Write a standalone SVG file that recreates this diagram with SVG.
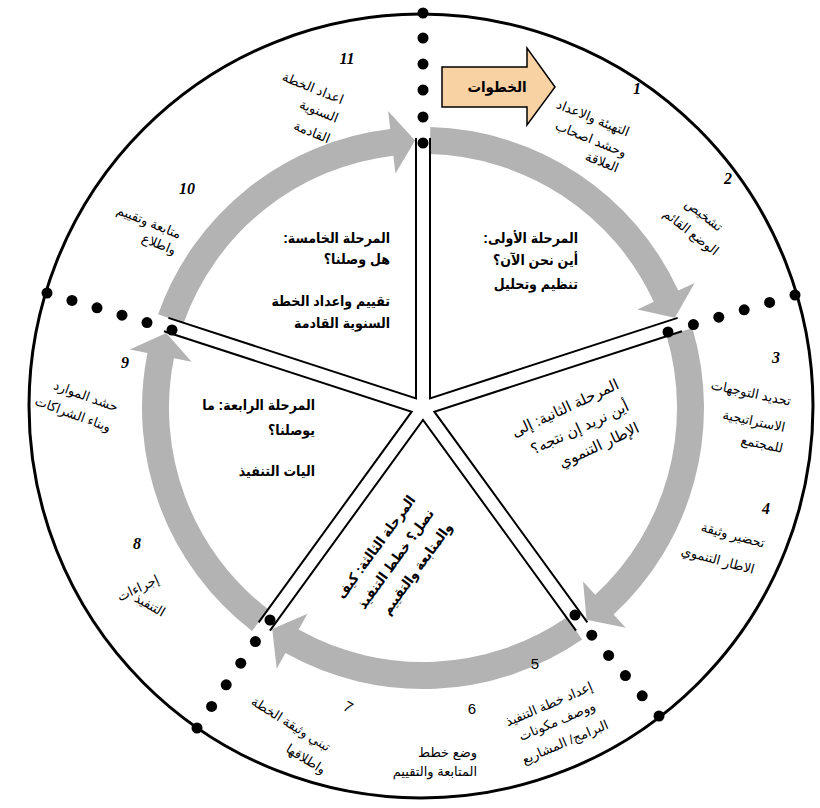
<svg xmlns="http://www.w3.org/2000/svg" xmlns:xlink="http://www.w3.org/1999/xlink" width="820" height="808" viewBox="0 0 820 808">
<style>
.ar{font-family:"Liberation Sans","DejaVu Sans",sans-serif;direction:rtl;fill:#000}
.ph{font-family:"Liberation Sans","DejaVu Sans Condensed","DejaVu Sans",sans-serif;font-size:14px;font-weight:bold}
.ph2{font-size:15px}
.st{font-size:13px;text-anchor:middle}
.ra{text-anchor:start}
.num{font-family:"Liberation Serif",serif;font-weight:bold;font-style:italic;font-size:16px;text-anchor:middle}
.num2{font-family:"Liberation Sans",sans-serif;font-size:15px;text-anchor:middle}
.dot{fill:#000}
.band{fill:#b3b3b3}
.sp{fill:none;stroke:#000;stroke-width:2}
</style>
<defs>
<path id="arr" class="band" d="M430.36,127.10 A281,281 0 0 1 678.29,290.58 L694.64,283.06 L674.84,317.83 L637.41,309.38 L653.76,301.86 A254,254 0 0 0 429.65,154.09 Z"/>
<path id="wedge" class="sp" d="M430,138 L430,398.37 L677.63,317.90"/>
</defs>
<rect width="820" height="808" fill="#fff"/>
<circle id="outer" cx="421" cy="406" r="392" fill="none" stroke="#000" stroke-width="3"/>

<g id="connectors">
<g id="ring">
<use xlink:href="#arr"/>
<use xlink:href="#arr" transform="rotate(72 423 408)"/>
<use xlink:href="#arr" transform="rotate(144 423 408)"/>
<use xlink:href="#arr" transform="rotate(216 423 408)"/>
<use xlink:href="#arr" transform="rotate(288 423 408)"/>
</g>
<g id="spokes">
<use xlink:href="#wedge"/>
<use xlink:href="#wedge" transform="rotate(72 423 408)"/>
<use xlink:href="#wedge" transform="rotate(144 423 408)"/>
<use xlink:href="#wedge" transform="rotate(216 423 408)"/>
<use xlink:href="#wedge" transform="rotate(288 423 408)"/>
</g>
<g id="dots">
<circle class="dot" cx="423" cy="143" r="5.5"/><circle class="dot" cx="423" cy="117" r="5.5"/><circle class="dot" cx="423" cy="90" r="5.5"/><circle class="dot" cx="423" cy="64" r="5.5"/><circle class="dot" cx="423" cy="38" r="5.5"/><circle class="dot" cx="423" cy="13" r="5.5"/>
<circle class="dot" cx="668" cy="332" r="5.5"/><circle class="dot" cx="693.4" cy="324.6" r="5.5"/><circle class="dot" cx="718.8" cy="317.2" r="5.5"/><circle class="dot" cx="744.2" cy="309.8" r="5.5"/><circle class="dot" cx="769.6" cy="302.4" r="5.5"/><circle class="dot" cx="795" cy="295" r="5.5"/>
<circle class="dot" cx="575" cy="615" r="5.5"/><circle class="dot" cx="591.8" cy="635.2" r="5.5"/><circle class="dot" cx="608.6" cy="655.4" r="5.5"/><circle class="dot" cx="625.4" cy="675.6" r="5.5"/><circle class="dot" cx="642.2" cy="695.8" r="5.5"/><circle class="dot" cx="659" cy="716" r="5.5"/>
<circle class="dot" cx="270" cy="620" r="5.5"/><circle class="dot" cx="255.4" cy="641.6" r="5.5"/><circle class="dot" cx="240.8" cy="663.2" r="5.5"/><circle class="dot" cx="226.2" cy="684.8" r="5.5"/><circle class="dot" cx="211.6" cy="706.4" r="5.5"/><circle class="dot" cx="197" cy="728" r="5.5"/>
<circle class="dot" cx="172" cy="330" r="5.5"/><circle class="dot" cx="147" cy="322.6" r="5.5"/><circle class="dot" cx="122" cy="315.2" r="5.5"/><circle class="dot" cx="97" cy="307.8" r="5.5"/><circle class="dot" cx="72" cy="300.4" r="5.5"/><circle class="dot" cx="47" cy="293" r="5.5"/>
</g>
</g>

<g id="steps-arrow">
<polygon points="442,67 527,67 527,48 555,87 527,125 527,107 442,107" fill="#f9d2a3" stroke="#000" stroke-width="1.5"/>
<text class="ar ph" x="497" y="92" text-anchor="middle" style="font-size:15px">الخطوات</text>
</g>

<g id="phase1">
<text class="ar ph ra" x="578" y="243">المرحلة الأولى:</text>
<text class="ar ph ra" x="578" y="265">أين نحن الآن؟</text>
<text class="ar ph ra" x="578" y="289">تنظيم وتحليل</text>
</g>
<g id="phase2" transform="translate(620 388) rotate(-25)">
<text class="ar ph2 ra" x="0" y="0">المرحلة الثانية: إلى</text>
<text class="ar ph2 ra" x="0" y="24">أين نريد إن نتجه؟</text>
<text class="ar ph2 ra" x="0" y="48">الإطار التنموي</text>
</g>
<g id="phase3" transform="translate(416 500) rotate(-54)">
<text class="ar ph ra" x="0" y="0">المرحلة الثالثة: كيف</text>
<text class="ar ph ra" x="0" y="23">نصل؟ خطط التنفيذ</text>
<text class="ar ph ra" x="0" y="46">والمتابعة والتقييم</text>
</g>
<g id="phase4">
<text class="ar ph ra" x="315" y="410">المرحلة الرابعة: ما</text>
<text class="ar ph ra" x="315" y="435">يوصلنا؟</text>
<text class="ar ph ra" x="315" y="476">اليات التنفيذ</text>
</g>
<g id="phase5">
<text class="ar ph ra" x="390" y="243">المرحلة الخامسة:</text>
<text class="ar ph ra" x="390" y="264">هل وصلنا؟</text>
<text class="ar ph ra" x="390" y="306">تقييم واعداد الخطة</text>
<text class="ar ph ra" x="390" y="328">السنوية القادمة</text>
</g>

<g id="step1">
<text class="num" x="637" y="94">1</text>
<text class="ar st" transform="translate(593 118) rotate(22)" y="4.5">التهيئة والاعداد</text>
<text class="ar st" transform="translate(591 139) rotate(22)" y="4.5">وحشد اصحاب</text>
<text class="ar st" transform="translate(602 162) rotate(22)" y="4.5">العلاقة</text>
</g>
<g id="step2">
<text class="num" x="728" y="184">2</text>
<text class="ar st" transform="translate(704 215) rotate(38)" y="4.5">تشخيص</text>
<text class="ar st" transform="translate(691 232) rotate(38)" y="4.5">الوضع القائم</text>
</g>
<g id="step3">
<text class="num" x="776" y="363">3</text>
<text class="ar st" transform="translate(751 393) rotate(12)" y="4.5">تحديد التوجهات</text>
<text class="ar st" transform="translate(754 421) rotate(12)" y="4.5">الاستراتيجية</text>
<text class="ar st" transform="translate(762 444) rotate(12)" y="4.5">للمجتمع</text>
</g>
<g id="step4">
<text class="num" x="766" y="514">4</text>
<text class="ar st" transform="translate(733 535) rotate(15)" y="4.5">تحضير وثيقة</text>
<text class="ar st" transform="translate(718 560) rotate(15)" y="4.5">الاطار التنموي</text>
</g>
<g id="step5">
<text class="num2" x="535" y="669">5</text>
<text class="ar st" transform="translate(549 704) rotate(-23)" y="4.5">إعداد خطة التنفيذ</text>
<text class="ar st" transform="translate(557 721) rotate(-23)" y="4.5">ووصف مكونات</text>
<text class="ar st" transform="translate(565 742) rotate(-23)" y="4.5">البرامج/ المشاريع</text>
</g>
<g id="step6">
<text class="num2" x="472" y="714">6</text>
<text class="ar st ra" x="477" y="757" style="text-anchor:start">وضع خطط</text>
<text class="ar st ra" x="477" y="776" style="text-anchor:start">المتابعة والتقييم</text>
</g>
<g id="step7">
<text class="num2" transform="translate(348 707) rotate(30)" y="5">7</text>
<text class="ar st" transform="translate(291 724) rotate(32)" y="4.5">تبني وثيقة الخطة</text>
<text class="ar st" transform="translate(306 759) rotate(32)" y="4.5">واطلاقها</text>
</g>
<g id="step8">
<text class="num" x="137" y="549">8</text>
<text class="ar st" transform="translate(138 588) rotate(-25)" y="4.5">إجراءات</text>
<text class="ar st" transform="translate(150 605) rotate(30)" y="4.5">التنفيذ</text>
</g>
<g id="step9">
<text class="num" x="125" y="368">9</text>
<text class="ar st" transform="translate(86 396) rotate(20)" y="4.5">حشد الموارد</text>
<text class="ar st" transform="translate(73 414) rotate(20)" y="4.5">وبناء الشراكات</text>
</g>
<g id="step10">
<text class="num" x="187" y="194">10</text>
<text class="ar st" transform="translate(149 222) rotate(22)" y="4.5">متابعة وتقييم</text>
<text class="ar st" transform="translate(159 244) rotate(22)" y="4.5">واطلاع</text>
</g>
<g id="step11">
<text class="num" x="347" y="64">11</text>
<text class="ar st" transform="translate(313 88) rotate(22)" y="4.5">اعداد الخطة</text>
<text class="ar st" transform="translate(319 111) rotate(22)" y="4.5">السنوية</text>
<text class="ar st" transform="translate(312 132) rotate(22)" y="4.5">القادمة</text>
</g>
</svg>
